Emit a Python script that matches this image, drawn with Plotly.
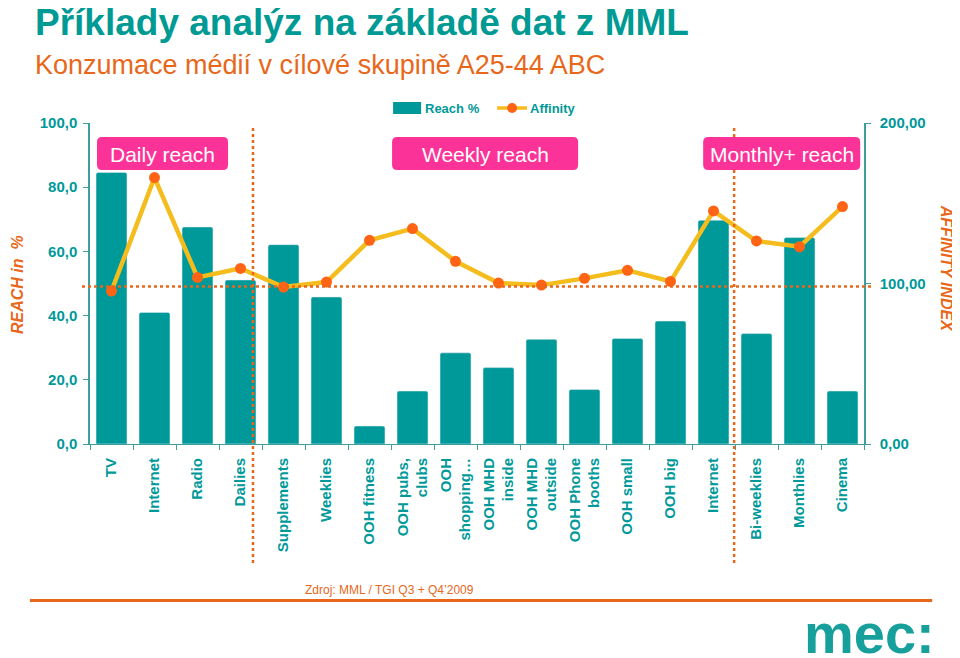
import plotly.graph_objects as go

# ---------------- data ----------------
categories = ["TV", "Internet", "Radio", "Dailies", "Supplements", "Weeklies",
              "OOH fitness", "OOH pubs,<br>clubs", "OOH<br>shopping…", "OOH MHD<br>inside",
              "OOH MHD<br>outside", "OOH Phone<br>booths", "OOH small", "OOH big",
              "Internet", "Bi-weeklies", "Monthlies", "Cinema"]
reach = [84.6, 41.0, 67.6, 51.1, 62.1, 45.8, 5.6, 16.5, 28.4, 23.8,
         32.6, 17.0, 32.9, 38.3, 69.7, 34.4, 64.3, 16.5]
affinity = [95.3, 166.0, 103.8, 109.4, 97.8, 100.9, 126.9, 134.2, 113.8, 100.3,
            99.0, 103.2, 108.2, 101.3, 145.2, 126.5, 122.9, 147.9]
group_labels = ["Daily reach", "Weekly reach", "Monthly+ reach"]
left_ticks = [0, 20, 40, 60, 80, 100]
right_ticks = [0, 100, 200]

# ---------------- style ----------------
TEAL = "#00999A"
AXTEAL = "#3C9E9E"
ORANGE = "#E8671A"
YELLOW = "#F4BC1C"
DOT = "#FF6414"
PINK = "#FB3399"
FONT = "Arial, Liberation Sans, sans-serif"

OFF = 8  # page body margin offset
W, H = 960, 658
PW, PH = 773.8, 321
L, T = 90 - OFF, 123 - OFF
R = W - L - PW
B = H - T - PH
n = len(categories)
xpos = list(range(n))


def px(x):  # screen pixel x -> paper
    return (x - OFF - L) / PW


def py(y):  # screen pixel y -> paper
    return (T + PH - (y - OFF)) / PH


def catx(c):
    return (c + 0.5) / n


fig = go.Figure()
fig.add_trace(go.Bar(x=xpos, y=reach, name="Reach %", marker=dict(color=TEAL, cornerradius=2),
                     width=0.72, showlegend=False))
fig.add_trace(go.Scatter(x=xpos, y=affinity, name="Affinity", yaxis="y2", mode="lines+markers",
                         line=dict(color=YELLOW, width=4.5),
                         marker=dict(color=DOT, size=11), showlegend=False))

shapes = []
annotations = []

# reference dotted lines
shapes.append(dict(type="line", xref="paper", yref="paper", x0=px(82), x1=px(871),
                   y0=py(286.5), y1=py(286.5), line=dict(color=ORANGE, width=2.5, dash="dot")))
for c in (3.29, 14.48):
    shapes.append(dict(type="line", xref="paper", yref="paper", x0=catx(c), x1=catx(c),
                       y0=py(128), y1=py(566), line=dict(color=ORANGE, width=2.5, dash="dot")))


def rrect(x0, y0, x1, y1, r=5):
    rx, ry = r / PW, r / PH
    a0, a1 = px(x0), px(x1)
    b0, b1 = py(y1), py(y0)
    return (f"M{a0+rx},{b0} L{a1-rx},{b0} Q{a1},{b0} {a1},{b0+ry} L{a1},{b1-ry} "
            f"Q{a1},{b1} {a1-rx},{b1} L{a0+rx},{b1} Q{a0},{b1} {a0},{b1-ry} "
            f"L{a0},{b0+ry} Q{a0},{b0} {a0+rx},{b0} Z")


boxes = [(97, 228), (392, 578), (703, 860)]
for (x0, x1), lab in zip(boxes, group_labels):
    shapes.append(dict(type="path", xref="paper", yref="paper", path=rrect(x0, 137, x1, 170),
                       fillcolor=PINK, line=dict(width=0), layer="above"))
    annotations.append(dict(xref="paper", yref="paper", x=px((x0 + x1) / 2), y=py(154),
                            text=lab, showarrow=False, xanchor="center", yanchor="middle",
                            font=dict(family=FONT, size=21, color="white")))

# legend (manual)
shapes.append(dict(type="rect", xref="paper", yref="paper", x0=px(393), x1=px(421),
                   y0=py(114), y1=py(102), fillcolor=TEAL, line=dict(width=0)))
annotations.append(dict(xref="paper", yref="paper", x=px(423), y=py(108), text="<b>Reach %</b>",
                        showarrow=False, xanchor="left", yanchor="middle",
                        font=dict(family=FONT, size=13, color=TEAL)))
shapes.append(dict(type="line", xref="paper", yref="paper", x0=px(497), x1=px(527),
                   y0=py(108), y1=py(108), line=dict(color=YELLOW, width=3.5)))
shapes.append(dict(type="circle", xref="paper", yref="paper", x0=px(507), x1=px(517),
                   y0=py(113), y1=py(103), fillcolor=DOT, line=dict(width=0)))
annotations.append(dict(xref="paper", yref="paper", x=px(528), y=py(108), text="<b>Affinity</b>",
                        showarrow=False, xanchor="left", yanchor="middle",
                        font=dict(family=FONT, size=13, color=TEAL)))

# titles
annotations.append(dict(xref="paper", yref="paper", x=px(33), y=py(23),
                        text="<b>Příklady analýz na základě dat z MML</b>", showarrow=False,
                        xanchor="left", yanchor="middle",
                        font=dict(family=FONT, size=37, color="#009A94")))
annotations.append(dict(xref="paper", yref="paper", x=px(33), y=py(65),
                        text="Konzumace médií v cílové skupině A25-44 ABC", showarrow=False,
                        xanchor="left", yanchor="middle",
                        font=dict(family=FONT, size=27, color=ORANGE)))

# axis titles
annotations.append(dict(xref="paper", yref="paper", x=px(17), y=py(284),
                        text="<b><i>REACH in  %</i></b>", showarrow=False, textangle=-90,
                        xanchor="center", yanchor="middle",
                        font=dict(family=FONT, size=16, color=ORANGE)))
annotations.append(dict(xref="paper", yref="paper", x=px(947), y=py(268),
                        text="<b><i>AFFINITY INDEX</i></b>", showarrow=False, textangle=90,
                        xanchor="center", yanchor="middle",
                        font=dict(family=FONT, size=16, color=ORANGE)))

# source, rule, logo
annotations.append(dict(xref="paper", yref="paper", x=px(303), y=py(590),
                        text="Zdroj: MML / TGI Q3 + Q4’2009", showarrow=False,
                        xanchor="left", yanchor="middle",
                        font=dict(family=FONT, size=12, color=ORANGE)))
shapes.append(dict(type="line", xref="paper", yref="paper", x0=px(30), x1=px(932),
                   y0=py(600.5), y1=py(600.5), line=dict(color=ORANGE, width=3)))
annotations.append(dict(xref="paper", yref="paper", x=px(937), y=py(633),
                        text="<b>mec:</b>", showarrow=False, xanchor="right", yanchor="middle",
                        font=dict(family=FONT, size=56, color="#17A09B")))

fig.update_layout(
    width=W, height=H,
    margin=dict(l=L, r=R, t=T, b=B, pad=0),
    paper_bgcolor="white", plot_bgcolor="white",
    separators=",.",
    bargap=0.28,
    shapes=shapes, annotations=annotations,
    xaxis=dict(range=[-0.5, n - 0.5], tickmode="array", tickvals=xpos, ticktext=categories,
               tickangle=-90, ticks="", showline=True, linecolor=AXTEAL, linewidth=1,
               showgrid=False, zeroline=False, ticklabelstandoff=7,
               tickfont=dict(family=FONT, size=15, color=TEAL, weight="bold"),
               minor=dict(tickmode="array", tickvals=[i - 0.5 for i in range(n + 1)],
                          ticks="outside", ticklen=5, tickcolor=AXTEAL, showgrid=False)),
    yaxis=dict(range=[0, 100], tickmode="array", tickvals=left_ticks, tickformat=".1f",
               ticks="outside", ticklen=5, tickcolor=AXTEAL, showline=True, linecolor=AXTEAL,
               linewidth=1.5, showgrid=False, zeroline=False, ticklabelstandoff=3,
               tickfont=dict(family=FONT, size=15, color=TEAL, weight="bold")),
    yaxis2=dict(range=[0, 200], overlaying="y", side="right", tickmode="array",
                tickvals=right_ticks, tickformat=".2f", ticks="outside", ticklen=5,
                tickcolor=AXTEAL, showline=True, linecolor=AXTEAL, linewidth=1.5,
                showgrid=False, zeroline=False, ticklabelstandoff=6,
                tickfont=dict(family=FONT, size=15, color=TEAL, weight="bold")),
)

fig.write_html("out.html")
